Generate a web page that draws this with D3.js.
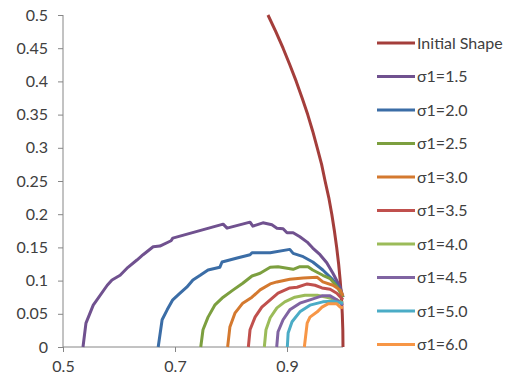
<!DOCTYPE html>
<html>
<head>
<meta charset="utf-8">
<script src="https://cdn.jsdelivr.net/npm/d3@7"></script>
<style>
  body { margin: 0; background: #fff; }
  svg text { font-family: Lato, "Open Sans", sans-serif; fill: #404040; }
</style>
</head>
<body>
<div id="chart"></div>
<script>
// series data ([x, y] pairs)
const initialShape = [[1.0, 0], [0.9997, 0.025], [0.9987, 0.05], [0.9972, 0.075], [0.995, 0.1], [0.9922, 0.125],
  [0.9887, 0.15], [0.9846, 0.175], [0.98, 0.2], [0.9746, 0.225], [0.968, 0.25], [0.9618, 0.275],
  [0.954, 0.3], [0.9459, 0.325], [0.937, 0.35], [0.927, 0.375], [0.9165, 0.4], [0.905, 0.425],
  [0.893, 0.45], [0.880, 0.475], [0.866, 0.5]];

const s15 = [[0.5357, 0], [0.541, 0.036], [0.554, 0.063], [0.579, 0.093], [0.5875, 0.101], [0.602, 0.108],
  [0.616, 0.120], [0.632, 0.131], [0.643, 0.139], [0.661, 0.151], [0.673, 0.152], [0.693, 0.160],
  [0.696, 0.164], [0.786, 0.185], [0.793, 0.179], [0.834, 0.188], [0.839, 0.182], [0.857, 0.187],
  [0.873, 0.184], [0.882, 0.179], [0.893, 0.178], [0.900, 0.172], [0.911, 0.172], [0.923, 0.166],
  [0.936, 0.158], [0.946, 0.149], [0.959, 0.139], [0.971, 0.127], [0.982, 0.111], [0.995, 0.090], [1.0, 0.075]];

const s20 = [[0.670, 0], [0.677, 0.041], [0.686, 0.056], [0.696, 0.071], [0.709, 0.081], [0.721, 0.090],
  [0.732, 0.101], [0.745, 0.108], [0.759, 0.116], [0.780, 0.120], [0.784, 0.128], [0.811, 0.134],
  [0.834, 0.139], [0.8375, 0.142], [0.870, 0.142], [0.905, 0.147], [0.911, 0.141], [0.929, 0.136],
  [0.946, 0.128], [0.964, 0.116], [0.982, 0.101], [0.995, 0.086], [1.0, 0.075]];

const s25 = [[0.746, 0], [0.750, 0.026], [0.759, 0.045], [0.771, 0.063], [0.786, 0.075], [0.804, 0.086],
  [0.821, 0.096], [0.8375, 0.107], [0.852, 0.111], [0.870, 0.120], [0.884, 0.121], [0.911, 0.117],
  [0.923, 0.121], [0.9375, 0.121], [0.946, 0.116], [0.964, 0.108], [0.977, 0.103], [0.989, 0.091], [1.0, 0.075]];

const s30 = [[0.794, 0], [0.798, 0.030], [0.807, 0.051], [0.821, 0.066], [0.8375, 0.075], [0.852, 0.086],
  [0.870, 0.095], [0.882, 0.098], [0.905, 0.102], [0.929, 0.104], [0.954, 0.105], [0.964, 0.098],
  [0.982, 0.093], [0.995, 0.086], [1.0, 0.077]];

const s35 = [[0.831, 0], [0.834, 0.026], [0.843, 0.045], [0.855, 0.060], [0.870, 0.071], [0.884, 0.081],
  [0.905, 0.089], [0.918, 0.090], [0.936, 0.095], [0.950, 0.093], [0.9625, 0.089], [0.977, 0.087],
  [0.989, 0.081], [1.0, 0.071]];

const s40 = [[0.8595, 0], [0.8625, 0.026], [0.870, 0.044], [0.882, 0.059], [0.896, 0.068], [0.914, 0.075],
  [0.932, 0.078], [0.954, 0.078], [0.971, 0.075], [0.989, 0.071], [1.0, 0.066]];

const s45 = [[0.8816, 0], [0.884, 0.023], [0.893, 0.041], [0.905, 0.056], [0.923, 0.066], [0.941, 0.071],
  [0.9625, 0.077], [0.977, 0.077], [0.989, 0.071], [1.0, 0.063]];

const s50 = [[0.9006, 0], [0.902, 0.021], [0.909, 0.038], [0.923, 0.053], [0.941, 0.063], [0.964, 0.068],
  [0.982, 0.069], [1.0, 0.066]];

const s60 = [[0.931, 0], [0.936, 0.036], [0.941, 0.045], [0.954, 0.053], [0.9625, 0.060], [0.973, 0.065],
  [0.989, 0.065], [0.995, 0.060], [1.0, 0.059]];

const seriesNames = ["Initial Shape", "σ1=1.5", "σ1=2.0", "σ1=2.5", "σ1=3.0", "σ1=3.5",
  "σ1=4.0", "σ1=4.5", "σ1=5.0", "σ1=6.0"];
const seriesData = [initialShape, s15, s20, s25, s30, s35, s40, s45, s50, s60];
const seriesColors = ["#A43E3B", "#70518F", "#3B6DA6", "#7C9F3F", "#D4792F", "#C0504D",
  "#9BBB59", "#8064A2", "#4BACC6", "#F79646"];

const xTicks = [0.5, 0.7, 0.9];
const yTicks = [0, 0.05, 0.1, 0.15, 0.2, 0.25, 0.3, 0.35, 0.4, 0.45, 0.5];

const width = 516, height = 386;
const margin = { left: 63, top: 15, right: 173, bottom: 39 };
const fontSize = 16;

const svg = d3.select("#chart").append("svg")
  .attr("width", width)
  .attr("height", height);

const x = d3.scaleLinear().domain([0.5, 1.0]).range([margin.left, width - margin.right]);
const y = d3.scaleLinear().domain([0, 0.5]).range([height - margin.bottom, margin.top]);

// axes
const yAxis = svg.append("g")
  .attr("transform", `translate(${margin.left},0)`)
  .call(d3.axisLeft(y).tickValues(yTicks).tickSize(5).tickPadding(10).tickFormat(d => String(+d.toFixed(2))));

const xAxis = svg.append("g")
  .attr("transform", `translate(0,${y(0)})`)
  .call(d3.axisBottom(x).tickValues(xTicks).tickSize(5).tickPadding(9).tickFormat(d => String(d)));

[xAxis, yAxis].forEach(g => {
  g.select(".domain").attr("stroke", "#868686").attr("stroke-width", 1);
  g.selectAll(".tick line").attr("stroke", "#868686");
  g.selectAll(".tick text").attr("font-size", fontSize).attr("fill", "#404040")
    .style("font-family", "Lato, 'Open Sans', sans-serif");
});
xAxis.select(".domain").attr("d", `M${margin.left},0H${x(1.0)}`);
yAxis.select(".domain").attr("d", `M0,${y(0)}V${y(0.5)}`);

// curves
const line = d3.line().x(d => x(d[0])).y(d => y(d[1]));

svg.append("g")
  .selectAll("path")
  .data(seriesData)
  .join("path")
  .attr("d", line)
  .attr("fill", "none")
  .attr("stroke", (d, i) => seriesColors[i])
  .attr("stroke-width", 3)
  .attr("stroke-linejoin", "round");

// legend
const legend = svg.append("g").attr("transform", "translate(377,43)");
const rows = legend.selectAll("g")
  .data(seriesNames)
  .join("g")
  .attr("transform", (d, i) => `translate(0,${i * 33.5})`);

rows.append("line")
  .attr("x1", 0).attr("x2", 38)
  .attr("stroke", (d, i) => seriesColors[i])
  .attr("stroke-width", 3);

rows.append("text")
  .attr("x", 40)
  .attr("dy", "0.35em")
  .attr("font-size", fontSize)
  .text(d => d);
</script>
</body>
</html>
